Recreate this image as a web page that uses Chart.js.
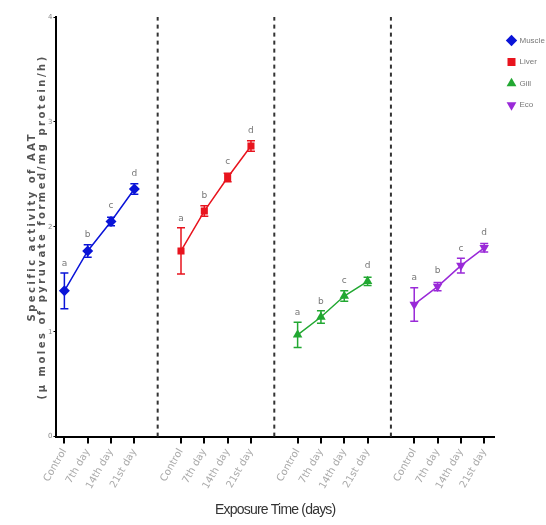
<!DOCTYPE html>
<html>
<head>
<meta charset="utf-8">
<script src="https://cdn.jsdelivr.net/npm/chart.js@4.4.1/dist/chart.umd.min.js"></script>
<style>
  html, body { margin: 0; padding: 0; background: #fff; }
  #wrap { width: 546px; height: 525px; }
</style>
</head>
<body>
<div id="wrap"><canvas id="aatChart"></canvas></div>
<script>
// exposure days, repeated for each tissue group
const days = ['Control', '7th day', '14th day', '21st day'];
const tissues = ['Muscle', 'Liver', 'Gill', 'Eco'];
const letters = ['a', 'b', 'c', 'd'];

// means and SE
const muscleMean = [1.39, 1.77, 2.05, 2.36];
const muscleErr  = [0.17, 0.06, 0.04, 0.05];
const liverMean  = [1.77, 2.15, 2.47, 2.77];
const liverErr   = [0.22, 0.05, 0.04, 0.05];
const gillMean   = [0.97, 1.14, 1.34, 1.48];
const gillErr    = [0.12, 0.06, 0.05, 0.04];
const ecoMean    = [1.26, 1.43, 1.63, 1.80];
const ecoErr     = [0.16, 0.04, 0.07, 0.04];

const yTicks = [0, 1, 2, 3, 4];

// x slot positions: 4 points per group, one empty slot between groups
const groupStart = [0, 5, 10, 15];
const separators = [4, 9, 14];

const colors = ['#0a14d8', '#e8141e', '#22a832', '#9a2ad8'];
const styles = ['rectRot', 'rect', 'triangle', 'triangle'];
const rotations = [0, 0, 0, 180];

const means = [muscleMean, liverMean, gillMean, ecoMean];
const errs = [muscleErr, liverErr, gillErr, ecoErr];

const tickPos = [];
const tickLabel = {};
groupStart.forEach(g => {
  days.forEach((d, i) => {
    tickPos.push(g + i);
    tickLabel[g + i] = d;
  });
});

const datasets = tissues.map((name, t) => ({
  label: name,
  data: means[t].map((v, i) => ({ x: groupStart[t] + i, y: v })),
  err: errs[t],
  borderColor: colors[t],
  backgroundColor: colors[t],
  borderWidth: 1.5,
  pointStyle: styles[t],
  pointRotation: rotations[t],
  pointRadius: t === 1 ? 5 : 5.5,
  pointBorderWidth: 0,
  tension: 0
}));

// the source figure draws its axis titles with odd letter spacing
function spacedTitle(spacing) {
  return function (scale) {
    if (scale._spacedTitle) return;
    const drawTitle = scale.drawTitle.bind(scale);
    scale.drawTitle = function () {
      this.ctx.save();
      this.ctx.letterSpacing = spacing;
      drawTitle();
      this.ctx.restore();
    };
    scale._spacedTitle = true;
  };
}

// error bars + significance letters
const errorBars = {
  id: 'errorBars',
  afterDatasetsDraw(chart) {
    const ctx = chart.ctx;
    const ys = chart.scales.y;
    const xs = chart.scales.x;
    chart.data.datasets.forEach(ds => {
      ds.data.forEach((p, i) => {
        const x = xs.getPixelForValue(p.x);
        const top = ys.getPixelForValue(p.y + ds.err[i]);
        const bot = ys.getPixelForValue(p.y - ds.err[i]);
        ctx.save();
        ctx.strokeStyle = ds.borderColor;
        ctx.lineWidth = 1.5;
        ctx.beginPath();
        ctx.moveTo(x, top); ctx.lineTo(x, bot);
        ctx.moveTo(x - 4, top); ctx.lineTo(x + 4, top);
        ctx.moveTo(x - 4, bot); ctx.lineTo(x + 4, bot);
        ctx.stroke();
        ctx.fillStyle = '#777';
        ctx.font = '9px "DejaVu Sans", sans-serif';
        ctx.textAlign = 'center';
        ctx.textBaseline = 'bottom';
        ctx.fillText(letters[i], x, Math.min(top, ys.getPixelForValue(p.y) - 6) - 5);
        ctx.restore();
      });
    });
  }
};

// dashed lines between tissue groups
const groupLines = {
  id: 'groupLines',
  beforeDatasetsDraw(chart) {
    const ctx = chart.ctx;
    const ys = chart.scales.y;
    const xs = chart.scales.x;
    ctx.save();
    ctx.strokeStyle = '#333';
    ctx.lineWidth = 2;
    ctx.setLineDash([4, 4]);
    separators.forEach(s => {
      const x = xs.getPixelForValue(s);
      ctx.beginPath();
      ctx.moveTo(x, ys.getPixelForValue(0));
      ctx.lineTo(x, ys.getPixelForValue(4));
      ctx.stroke();
    });
    ctx.restore();
  }
};

new Chart(document.getElementById('aatChart'), {
  type: 'line',
  data: { datasets },
  options: {
    responsive: true,
    maintainAspectRatio: false,
    animation: false,
    layout: { padding: { top: 17, right: 0, left: 28, bottom: 2 } },
    plugins: {
      legend: {
        position: 'right',
        align: 'start',
        maxWidth: 52,
        title: { display: true, text: ' ', padding: 0, font: { size: 5 } },
        labels: {
          usePointStyle: true,
          boxWidth: 9,
          boxHeight: 9,
          padding: 13.5,
          color: '#777',
          font: { size: 8, family: '"Liberation Sans", sans-serif' }
        }
      },
      tooltip: { enabled: false }
    },
    scales: {
      x: {
        type: 'linear',
        min: -0.34,
        max: 18.42,
        afterBuildTicks(scale) {
          scale.ticks = tickPos.map(v => ({ value: v }));
        },
        afterUpdate: spacedTitle('-0.8px'),
        ticks: {
          autoSkip: false,
          maxRotation: 60,
          minRotation: 60,
          color: '#aaa',
          font: { size: 10, family: '"DejaVu Sans", sans-serif' },
          callback: v => tickLabel[v] || ''
        },
        grid: { drawOnChartArea: false, drawTicks: true, tickLength: 7, color: '#000', lineWidth: 2 },
        border: { display: true, color: '#000', width: 2 },
        title: {
          display: true,
          text: 'Exposure Time (days)',
          color: '#333',
          font: { size: 14, family: '"Liberation Sans", sans-serif' },
          padding: { top: 8, bottom: 4 }
        }
      },
      y: {
        min: 0,
        max: 4,
        afterBuildTicks(scale) {
          scale.ticks = yTicks.map(v => ({ value: v }));
        },
        afterUpdate: spacedTitle('2.5px'),
        ticks: {
          color: '#888',
          font: { size: 7, family: '"DejaVu Sans", sans-serif' },
          padding: 1
        },
        grid: { drawOnChartArea: false, drawTicks: true, tickLength: 3, color: '#000', lineWidth: 1 },
        border: { display: true, color: '#000', width: 2 },
        title: {
          display: true,
          text: ['Specific activity of AAT', '(\u03bc moles of pyruvate formed/mg protein/h)'],
          color: '#555',
          font: { size: 10, weight: 'bold', lineHeight: 0.95, family: '"DejaVu Sans", sans-serif' },
          padding: 0
        }
      }
    }
  },
  plugins: [groupLines, errorBars]
});
</script>
</body>
</html>
